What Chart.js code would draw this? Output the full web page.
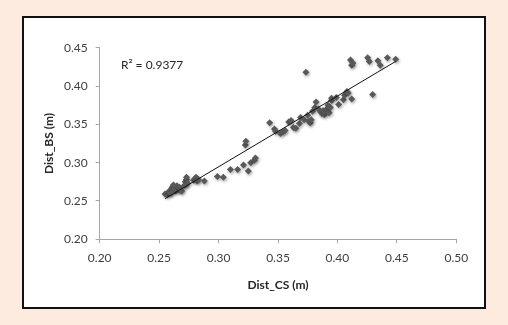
<!DOCTYPE html>
<html>
<head>
<meta charset="utf-8">
<script src="https://cdn.jsdelivr.net/npm/chart.js@4/dist/chart.umd.min.js"></script>
<style>
  html, body { margin: 0; padding: 0; }
  body { width: 508px; height: 325px; background: #fdebe0; position: relative; overflow: hidden; }
  #frame { position: absolute; left: 22px; top: 16px; width: 464px; height: 293px;
           box-sizing: border-box; border: 2px solid #111; background: #fff; }
  #chart { position: absolute; left: 0; top: 0; }
</style>
</head>
<body>
<div id="frame"></div>
<canvas id="chart" width="508" height="325"></canvas>
<script>
// Distance measured with CS (x) against distance measured with BS (y), metres
const distCS = [
  0.255, 0.257, 0.258, 0.259, 0.260, 0.261, 0.262, 0.263, 0.264, 0.265, 0.266, 0.267, 0.268, 0.269, 0.262, 0.260,
  0.272, 0.272, 0.273, 0.273, 0.274, 0.271,
  0.279, 0.280, 0.281, 0.282, 0.283,
  0.288, 0.299, 0.304, 0.310, 0.316,
  0.321, 0.3225, 0.323, 0.325, 0.327, 0.330, 0.331,
  0.343, 0.347, 0.348, 0.352, 0.354, 0.356, 0.359, 0.361, 0.363, 0.365, 0.368, 0.369, 0.372, 0.3735,
  0.375, 0.376, 0.377, 0.378, 0.379, 0.381, 0.382, 0.384, 0.386, 0.387, 0.388, 0.389, 0.390, 0.391,
  0.392, 0.393, 0.394, 0.395, 0.395, 0.399, 0.401, 0.405, 0.406, 0.408, 0.409, 0.412,
  0.411, 0.412, 0.413, 0.4254, 0.4268, 0.4296, 0.434, 0.436, 0.442, 0.449
];
const distBS = [
  0.259, 0.258, 0.262, 0.261, 0.265, 0.268, 0.271, 0.266, 0.263, 0.270, 0.265, 0.268, 0.264, 0.263, 0.264, 0.260,
  0.271, 0.275, 0.278, 0.281, 0.273, 0.270,
  0.277, 0.279, 0.281, 0.276, 0.278,
  0.276, 0.282, 0.281, 0.291, 0.291,
  0.297, 0.323, 0.328, 0.289, 0.300, 0.303, 0.306,
  0.352, 0.344, 0.341, 0.338, 0.340, 0.342, 0.353, 0.355, 0.346, 0.345, 0.351, 0.359, 0.356, 0.418,
  0.362, 0.354, 0.352, 0.356, 0.367, 0.372, 0.379, 0.370, 0.366, 0.364, 0.368, 0.363, 0.366, 0.370,
  0.375, 0.365, 0.372, 0.381, 0.384, 0.385, 0.376, 0.382, 0.388, 0.393, 0.391, 0.383,
  0.434, 0.427, 0.430, 0.437, 0.432, 0.389, 0.433, 0.427, 0.437, 0.435
];
const xTicks = [0.20, 0.25, 0.30, 0.35, 0.40, 0.45, 0.50];
const yTicks = [0.20, 0.25, 0.30, 0.35, 0.40, 0.45];
const r2Label = 'R\u00B2 = 0.9377';

const points = distCS.map((x, i) => ({ x, y: distBS[i] }));

// Least-squares trend line across the measured range
const n = distCS.length;
const mx = distCS.reduce((a, b) => a + b, 0) / n;
const my = distBS.reduce((a, b) => a + b, 0) / n;
let sxy = 0, sxx = 0;
for (let i = 0; i < n; i++) { sxy += (distCS[i] - mx) * (distBS[i] - my); sxx += (distCS[i] - mx) ** 2; }
const slope = sxy / sxx;
const intercept = my - slope * mx;
const xMin = Math.min(...distCS), xMax = Math.max(...distCS);
const trend = [{ x: xMin, y: intercept + slope * xMin }, { x: xMax, y: intercept + slope * xMax }];

const FONT = 'Lato, "Open Sans", sans-serif';

// Soft drop shadow under the markers
const markerShadow = {
  id: 'markerShadow',
  beforeDatasetDraw(chart, args) {
    if (args.index !== 1) return;
    const ctx = chart.ctx;
    ctx.save();
    ctx.shadowColor = 'rgba(0,0,0,0.35)';
    ctx.shadowBlur = 3;
    ctx.shadowOffsetX = 1;
    ctx.shadowOffsetY = 1.5;
  },
  afterDatasetDraw(chart, args) {
    if (args.index !== 1) return;
    chart.ctx.restore();
  }
};

const r2Text = {
  id: 'r2Text',
  afterDraw(chart) {
    const ctx = chart.ctx;
    ctx.save();
    ctx.font = '12px ' + FONT;
    ctx.fillStyle = '#262626';
    ctx.textBaseline = 'middle';
    ctx.textAlign = 'left';
    ctx.fillText(r2Label, 121, 65);
    ctx.restore();
  }
};

new Chart(document.getElementById('chart'), {
  type: 'scatter',
  data: {
    datasets: [
      {
        type: 'line',
        data: trend,
        borderColor: '#111',
        borderWidth: 1,
        pointRadius: 0,
        fill: false,
        order: 0
      },
      {
        data: points,
        pointStyle: 'rectRot',
        pointRadius: 3.5,
        backgroundColor: '#595959',
        borderColor: '#595959',
        borderWidth: 0,
        order: 1
      }
    ]
  },
  options: {
    responsive: false,
    animation: false,
    events: [],
    layout: { padding: { left: 0, top: 47.7, right: 51.7, bottom: 0 } },
    plugins: { legend: { display: false }, tooltip: { enabled: false } },
    scales: {
      x: {
        type: 'linear',
        min: 0.20, max: 0.50,
        afterBuildTicks: s => { s.ticks = xTicks.map(v => ({ value: v })); },
        afterFit: s => { s.height = 325 - 239.3; },
        border: { color: '#a6a6a6', width: 1 },
        grid: { drawOnChartArea: false, drawTicks: true, tickLength: 4, color: '#a6a6a6' },
        ticks: { color: '#404040', font: { family: FONT, size: 12 }, padding: 8,
                 maxRotation: 0, callback: v => v.toFixed(2) },
        title: { display: true, text: 'Dist_CS (m)', color: '#262626',
                 font: { family: FONT, size: 12, weight: 'bold' }, padding: { top: 0, bottom: 32.8 } }
      },
      y: {
        type: 'linear',
        min: 0.20, max: 0.45,
        afterBuildTicks: s => { s.ticks = yTicks.map(v => ({ value: v })); },
        afterFit: s => { s.width = 99.7; },
        border: { color: '#a6a6a6', width: 1 },
        grid: { drawOnChartArea: false, drawTicks: true, tickLength: 4, color: '#a6a6a6' },
        ticks: { color: '#404040', font: { family: FONT, size: 12 }, padding: 8,
                 callback: v => v.toFixed(2) },
        title: { display: true, text: 'Dist_BS (m)', color: '#262626',
                 font: { family: FONT, size: 12, weight: 'bold' }, padding: { top: 41.8, bottom: 0 } }
      }
    }
  },
  plugins: [markerShadow, r2Text]
});
</script>
</body>
</html>
